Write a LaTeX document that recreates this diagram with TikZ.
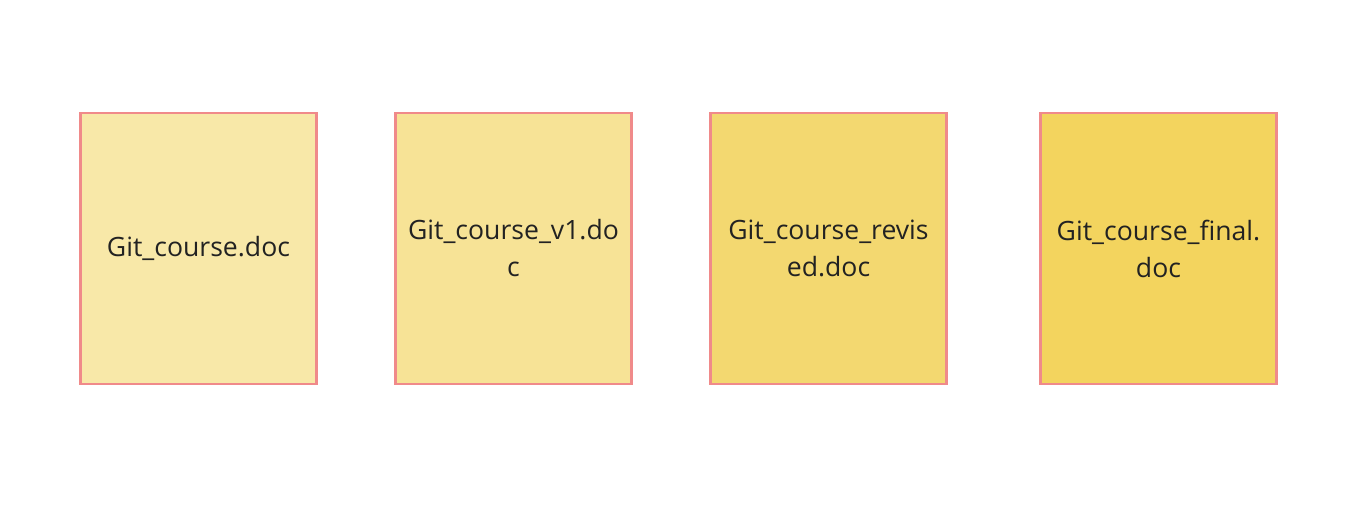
\documentclass[tikz,border=0pt]{standalone}
\usepackage{fontspec}
\setmainfont{Open Sans}
\definecolor{bordc}{HTML}{F08A8A}
\definecolor{fillA}{HTML}{F8E8A8}
\definecolor{fillB}{HTML}{F7E396}
\definecolor{fillC}{HTML}{F3D870}
\definecolor{fillD}{HTML}{F3D45E}
\definecolor{txtc}{HTML}{222222}
\tikzset{
  docbox/.style={draw=bordc, line width=2.7pt, minimum width=236pt, minimum height=271pt,
    inner sep=0pt, align=center, text=txtc, font=\fontsize{26.6}{37}\selectfont}
}
\begin{document}
\begin{tikzpicture}[x=1pt,y=-1pt]
\useasboundingbox (0,0) rectangle (1360,528);
\node[docbox, fill=fillA] (a) at (198.5,248.5) {Git\_course.doc};
\node[docbox, fill=fillB] (b) at (513.5,248.5) {Git\_course\_v1.do\\c};
\node[docbox, fill=fillC] (c) at (828.5,248.5) {Git\_course\_revis\\ed.doc};
\node[docbox, fill=fillD] (d) at (1158.5,248.5) {Git\_course\_final.\\doc};
\end{tikzpicture}
\end{document}
